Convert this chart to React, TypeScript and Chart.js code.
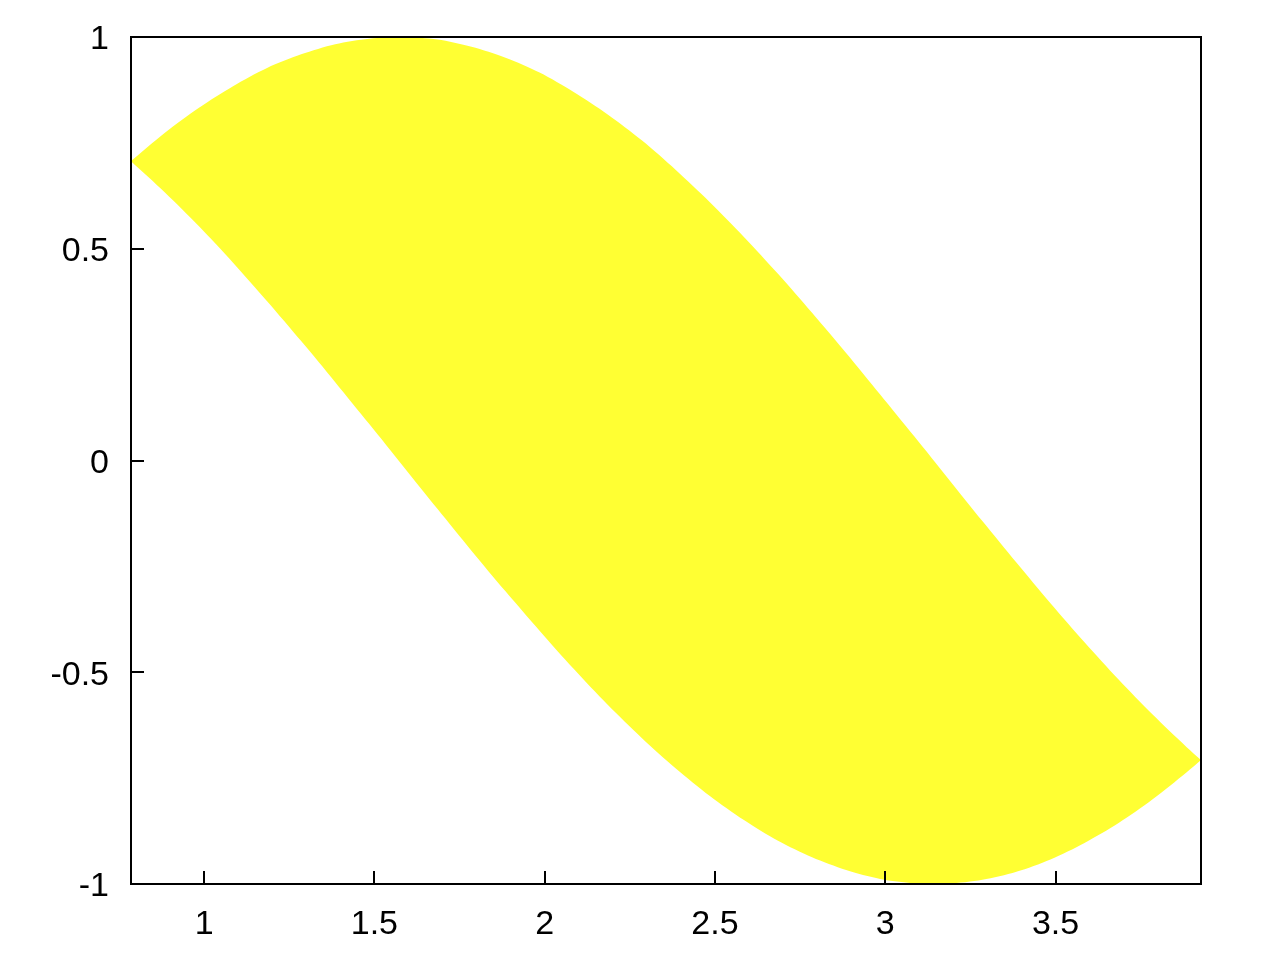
import React, { useEffect, useRef } from "react";
import { Chart, registerables } from "chart.js";

Chart.register(...registerables);

const xValues = [
  0.785, 0.885, 0.985, 1.085, 1.185, 1.285, 1.385, 1.485, 1.585, 1.685, 1.785,
  1.885, 1.985, 2.085, 2.185, 2.285, 2.385, 2.485, 2.585, 2.685, 2.785, 2.885,
  2.985, 3.085, 3.185, 3.285, 3.385, 3.485, 3.585, 3.685, 3.785, 3.885, 3.927,
];
const upperValues = [
  0.707, 0.774, 0.833, 0.884, 0.927, 0.959, 0.983, 0.996, 1.0, 0.994, 0.977,
  0.951, 0.916, 0.87, 0.817, 0.756, 0.686, 0.61, 0.528, 0.441, 0.349, 0.254,
  0.156, 0.057, -0.043, -0.143, -0.241, -0.337, -0.429, -0.517, -0.6, -0.677, -0.707,
];
const lowerValues = [
  0.707, 0.633, 0.553, 0.467, 0.376, 0.282, 0.185, 0.086, -0.014, -0.114, -0.213,
  -0.309, -0.402, -0.492, -0.577, -0.655, -0.727, -0.792, -0.849, -0.898, -0.937, -0.967,
  -0.988, -0.998, -0.999, -0.99, -0.971, -0.942, -0.903, -0.856, -0.8, -0.736, -0.707,
];
const xTicks = [1, 1.5, 2, 2.5, 3, 3.5];
const yTicks = [-1, -0.5, 0, 0.5, 1];
const xMin = 0.7854;
const xMax = 3.927;

const FONT = { family: "'Liberation Sans', Arial, sans-serif", size: 34 };
const YFONT = { family: "'Liberation Sans', Arial, sans-serif", size: 34, lineHeight: 1 };

const framePlugin = {
  id: "frame",
  afterDatasetsDraw(chart: any) {
    const { ctx, chartArea, scales } = chart;
    const { left, right, top, bottom } = chartArea;
    ctx.save();
    ctx.strokeStyle = "#000";
    ctx.lineWidth = 2;
    ctx.beginPath();
    for (const v of xTicks) {
      const px = Math.round(scales.x.getPixelForValue(v));
      ctx.moveTo(px, bottom);
      ctx.lineTo(px, bottom - 13);
    }
    for (const v of yTicks) {
      const py = Math.round(scales.y.getPixelForValue(v));
      ctx.moveTo(left, py);
      ctx.lineTo(left + 13, py);
    }
    ctx.stroke();
    ctx.strokeRect(left, top, right - left, bottom - top);
    ctx.restore();
  },
};

export default function App() {
  const ref = useRef<HTMLCanvasElement | null>(null);
  useEffect(() => {
    document.body.style.margin = "0";
    const upper = xValues.map((x, i) => ({ x, y: upperValues[i] }));
    const lower = xValues.map((x, i) => ({ x, y: lowerValues[i] }));
    const chart = new Chart(ref.current as HTMLCanvasElement, {
      type: "line",
      data: {
        datasets: [
          {
            data: upper,
            fill: "+1",
            backgroundColor: "#ffff33",
            borderColor: "rgba(0,0,0,0)",
            borderWidth: 0,
            pointRadius: 0,
            tension: 0.3,
          },
          {
            data: lower,
            fill: false,
            borderColor: "rgba(0,0,0,0)",
            borderWidth: 0,
            pointRadius: 0,
            tension: 0.3,
          },
        ],
      },
      options: {
        animation: false,
        responsive: false,
        maintainAspectRatio: false,
        layout: { padding: { top: 37, right: 79, left: 0, bottom: 0 } },
        plugins: { legend: { display: false }, tooltip: { enabled: false } },
        scales: {
          x: {
            type: "linear",
            min: xMin,
            max: xMax,
            afterBuildTicks: (s: any) => {
              s.ticks = xTicks.map((v) => ({ value: v }));
            },
            afterFit: (s: any) => {
              s.height = 73;
            },
            grid: { display: false, drawTicks: false },
            border: { display: false },
            ticks: {
              font: FONT,
              color: "#000",
              padding: 20,
              maxRotation: 0,
              callback: (v: any) => String(v),
            },
          },
          y: {
            type: "linear",
            min: -1,
            max: 1,
            afterBuildTicks: (s: any) => {
              s.ticks = yTicks.map((v) => ({ value: v }));
            },
            afterFit: (s: any) => {
              s.width = 131;
              s.paddingTop = 0;
              s.paddingBottom = 0;
            },
            grid: { display: false, drawTicks: false },
            border: { display: false },
            ticks: {
              font: YFONT,
              color: "#000",
              padding: 22,
              labelOffset: 3,
              callback: (v: any) => String(v),
            },
          },
        },
      },
      plugins: [framePlugin],
    });
    return () => chart.destroy();
  }, []);
  return (
    <div style={{ width: 1280, height: 957, background: "#fff" }}>
      <canvas ref={ref} width={1280} height={957} style={{ display: "block" }} />
    </div>
  );
}
